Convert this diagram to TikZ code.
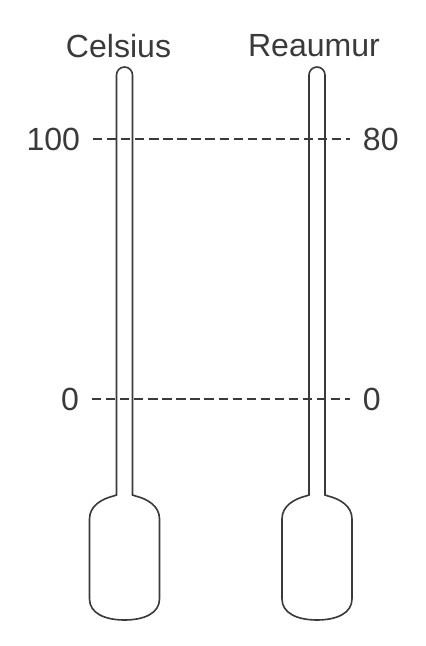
\documentclass[tikz,border=0pt]{standalone}
\usepackage{fontspec}
\setmainfont{Liberation Sans}
\definecolor{ink}{HTML}{3A3A3A}
\begin{document}
\begin{tikzpicture}[x=0.025cm, y=0.025cm,
  lbl/.style={text=ink, inner sep=0pt, font=\fontsize{22.8}{27}\selectfont},
  num/.style={text=ink, inner ysep=2pt, inner xsep=9pt, font=\fontsize{22.8}{27}\selectfont},
  glass/.style={draw=ink, line width=1.15pt},
  lvl/.style={draw=ink, line width=1.2pt, dash pattern=on 6.6pt off 3.4pt},
  therm/.pic={
    \draw[glass] (-8,151) -- (-8,571) arc[start angle=180, end angle=0, radius=8]
      -- (8,151) -- (11,150) .. controls (23,147) and (35,140) .. (35,127)
      -- (35,47) .. controls (35,33) and (20,26) .. (0,26)
      .. controls (-20,26) and (-35,33) .. (-35,47)
      -- (-35,127) .. controls (-35,140) and (-23,147) .. (-11,150) -- cycle;
  }]
\useasboundingbox (0,0) rectangle (426,646);
% thermometers
\pic at (124.5,0) {therm};
\pic at (317,0) {therm};
% scale names
\node[lbl] (celsius) at (118.5,600) {Celsius};
\node[lbl] (reaumur) at (314,600) {Reaumur};
% fixed points
\node[num, anchor=east] (c100) at (93,507) {100};
\node[num, anchor=west] (r80) at (350,507) {80};
\node[num, anchor=east] (c0) at (92,247) {0};
\node[num, anchor=west] (r0) at (350,247) {0};
\draw[lvl] (c100) -- (r80);
\draw[lvl] (c0) -- (r0);
\end{tikzpicture}
\end{document}
